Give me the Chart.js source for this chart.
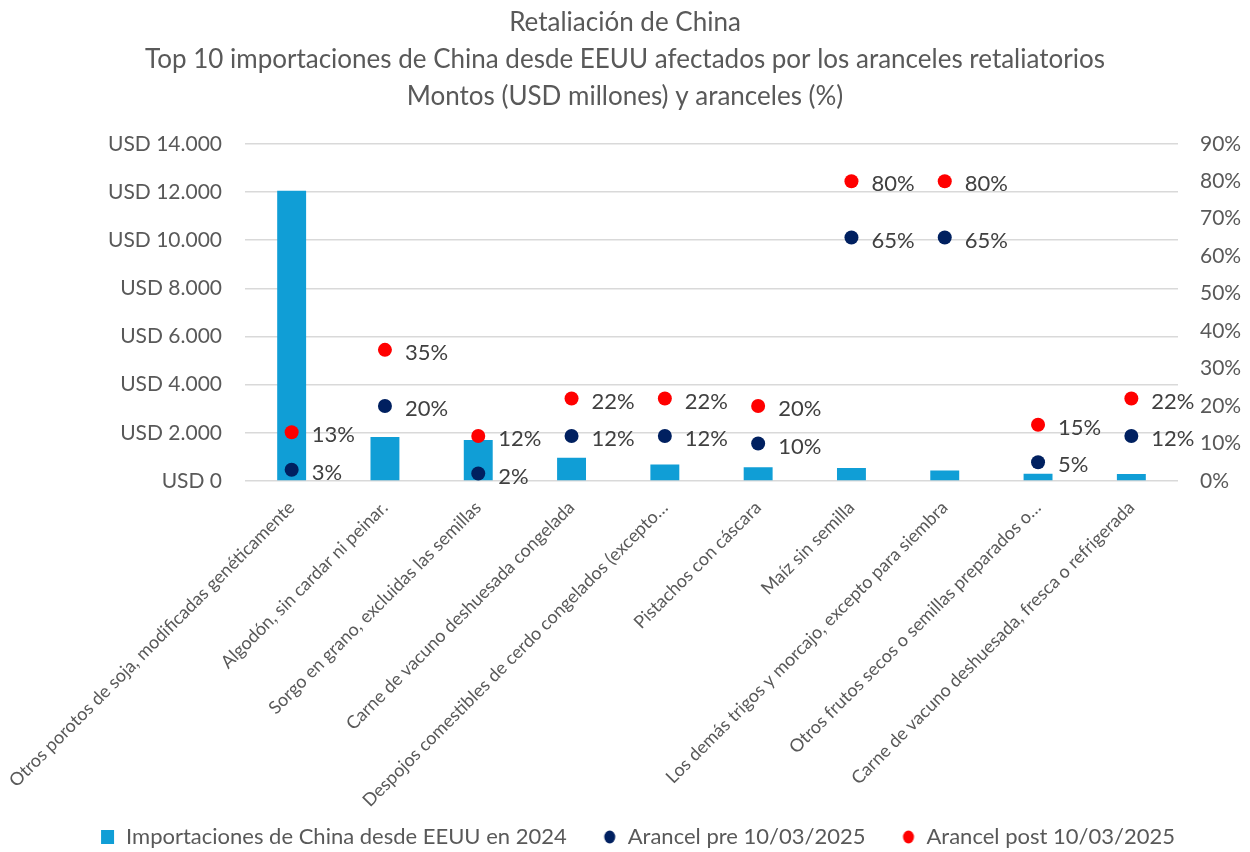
<!DOCTYPE html>
<html>
<head>
<meta charset="utf-8">
<script src="https://cdn.jsdelivr.net/npm/chart.js@4"></script>
<style>
  html, body { margin: 0; padding: 0; background: #fff; }
  #wrap { width: 1250px; height: 852px; }
</style>
</head>
<body>
<div id="wrap"><canvas id="chinaChart"></canvas></div>
<script>
// Categorías (etiquetas del eje X)
const categorias = [
  'Otros porotos de soja, modificadas genéticamente',
  'Algodón, sin cardar ni peinar.',
  'Sorgo en grano, excluidas las semillas',
  'Carne de vacuno deshuesada congelada',
  'Despojos comestibles de cerdo congelados (excepto…',
  'Pistachos con cáscara',
  'Maíz sin semilla',
  'Los demás trigos y morcajo, excepto para siembra',
  'Otros frutos secos o semillas preparados o…',
  'Carne de vacuno deshuesada, fresca o refrigerada'
];

// Importaciones 2024 (USD millones)
const importaciones2024 = [12050, 1830, 1700, 970, 680, 570, 540, 440, 300, 290];
// Aranceles (%)
const arancelPre = [3, 20, 2, 12, 12, 10, 65, 65, 5, 12];
const arancelPost = [13, 35, 12, 22, 22, 20, 80, 80, 15, 22];

const fuente = 'Lato, "Open Sans", sans-serif';
const gris = '#595959';
const azul = '#109ED6';
const marino = '#002060';
const rojo = '#FF0000';

// marcador de leyenda: hueco a la izquierda + figura a la derecha
function marcador(color, forma) {
  const c = document.createElement('canvas');
  c.width = 40; c.height = 16;
  const g = c.getContext('2d');
  g.fillStyle = color;
  if (forma === 'rect') {
    g.fillRect(26, 1, 13, 14);
  } else {
    g.beginPath();
    g.ellipse(33, 8, 5.5, 6.5, 0, 0, Math.PI * 2);
    g.fill();
  }
  return c;
}
const marcadores = [marcador(azul, 'rect'), marcador(marino, 'circle'), marcador(rojo, 'circle')];

// etiquetas de datos a la derecha de cada punto
const etiquetasPuntos = {
  id: 'etiquetasPuntos',
  afterDatasetsDraw(chart) {
    const ctx = chart.ctx;
    ctx.save();
    ctx.font = '22px ' + fuente;
    ctx.fillStyle = '#404040';
    ctx.textAlign = 'left';
    ctx.textBaseline = 'middle';
    [1, 2].forEach(i => {
      const meta = chart.getDatasetMeta(i);
      meta.data.forEach((pt, j) => {
        ctx.fillText(chart.data.datasets[i].data[j] + '%', pt.x + 20, pt.y + 3);
      });
    });
    ctx.restore();
  }
};

let chinaChart = null;

function initialize() {
  const ctx = document.getElementById('chinaChart').getContext('2d');
  chinaChart = new Chart(ctx, {
    type: 'bar',
    data: {
      labels: categorias,
      datasets: [
        {
          label: 'Importaciones de China desde EEUU en 2024',
          data: importaciones2024,
          backgroundColor: azul,
          yAxisID: 'y',
          barPercentage: 0.62,
          categoryPercentage: 0.5,
          order: 2
        },
        {
          type: 'line',
          label: 'Arancel pre 10/03/2025',
          data: arancelPre,
          yAxisID: 'y1',
          showLine: false,
          pointStyle: 'circle',
          pointRadius: 7,
          pointBackgroundColor: marino,
          pointBorderWidth: 0,
          borderColor: marino,
          backgroundColor: marino,
          order: 1
        },
        {
          type: 'line',
          label: 'Arancel post 10/03/2025',
          data: arancelPost,
          yAxisID: 'y1',
          showLine: false,
          pointStyle: 'circle',
          pointRadius: 7,
          pointBackgroundColor: rojo,
          pointBorderWidth: 0,
          borderColor: rojo,
          backgroundColor: rojo,
          order: 0
        }
      ]
    },
    options: {
      responsive: true,
      maintainAspectRatio: false,
      animation: false,
      layout: { padding: { top: 0, right: 0, bottom: -6, left: 0 } },
      plugins: {
        title: {
          display: true,
          text: [
            'Retaliación de China',
            'Top 10 importaciones de China desde EEUU afectados por los aranceles retaliatorios',
            'Montos (USD millones) y aranceles (%)'
          ],
          color: gris,
          font: { family: fuente, size: 26, weight: 'normal', lineHeight: 1.42 },
          padding: { top: 4, bottom: 29 }
        },
        legend: {
          position: 'bottom',
          labels: {
            usePointStyle: true,
            pointStyleWidth: 40,
            boxHeight: 16,
            padding: 10,
            color: gris,
            font: { family: fuente, size: 22 },
            sort: (a, b) => a.datasetIndex - b.datasetIndex,
            generateLabels(chart) {
              const items = Chart.defaults.plugins.legend.labels.generateLabels(chart);
              items.forEach(it => { it.pointStyle = marcadores[it.datasetIndex]; });
              return items;
            }
          }
        },
        tooltip: { enabled: false }
      },
      scales: {
        x: {
          grid: { display: false },
          border: { display: false },
          ticks: {
            color: gris,
            padding: 8,
            font: { family: fuente, size: 18 },
            maxRotation: 45,
            minRotation: 45,
            autoSkip: false
          },
          afterFit(s) {
            s.paddingLeft = 0;
            s.paddingRight = 0;
            s.height = 335;
          }
        },
        y: {
          position: 'left',
          min: 0,
          max: 14000,
          grid: { color: '#D9D9D9', lineWidth: 1.5, drawTicks: false },
          border: { display: false },
          ticks: {
            stepSize: 2000,
            padding: 23,
            color: gris,
            font: { family: fuente, size: 21 },
            callback: v => 'USD ' + String(v).replace(/\B(?=(\d{3})+(?!\d))/g, '.')
          },
          afterFit(s) { s.width = 245; }
        },
        y1: {
          position: 'right',
          min: 0,
          max: 90,
          grid: { display: false, drawTicks: false },
          border: { display: false },
          ticks: {
            stepSize: 10,
            padding: 22,
            color: gris,
            font: { family: fuente, size: 21 },
            callback: v => v + '%'
          },
          afterFit(s) { s.width = 72; }
        }
      }
    },
    plugins: [etiquetasPuntos]
  });
}

initialize();
</script>
</body>
</html>
